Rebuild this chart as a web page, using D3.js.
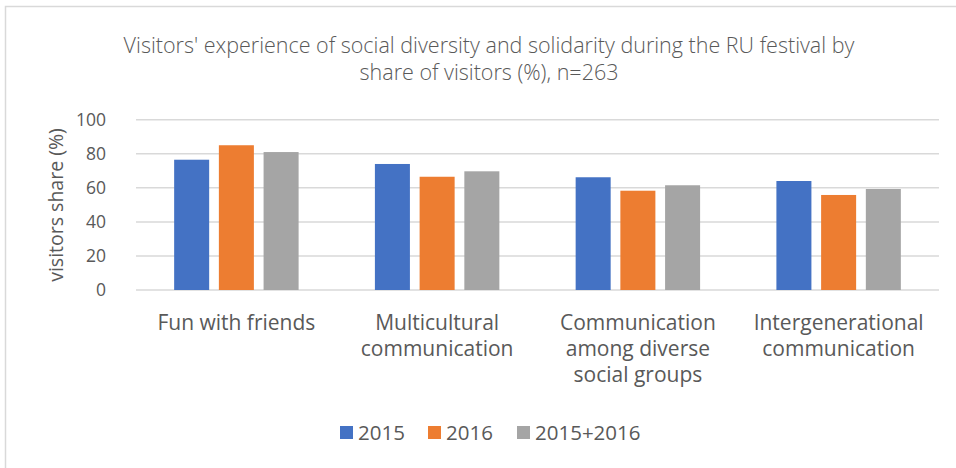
<!DOCTYPE html>
<html>
<head>
<meta charset="utf-8">
<script src="https://cdn.jsdelivr.net/npm/d3@7"></script>
<style>
  html, body { margin: 0; padding: 0; background: #fff; }
  svg { display: block; font-family: "Open Sans", Lato, sans-serif; }
</style>
</head>
<body>
<svg id="chart" width="956" height="468"></svg>
<script>
// Survey categories and shares of visitors (%) by festival year
const categories = [
  ["Fun with friends"],
  ["Multicultural", "communication"],
  ["Communication", "among diverse", "social groups"],
  ["Intergenerational", "communication"]
];
const seriesNames = ["2015", "2016", "2015+2016"];
const values2015 = [76.5, 74.0, 66.2, 64.0];
const values2016 = [85.0, 66.5, 58.3, 55.8];
const valuesBoth = [81.0, 69.7, 61.5, 59.3];
const yTicks = [0, 20, 40, 60, 80, 100];
const colors = ["#4472C4", "#ED7D31", "#A5A5A5"];

const seriesValues = [values2015, values2016, valuesBoth];

const svg = d3.select("#chart");
const textColor = "#595959";

// outer chart frame
svg.append("rect")
  .attr("x", 5.5).attr("y", 6.5)
  .attr("width", 980).attr("height", 500)
  .attr("fill", "none").attr("stroke", "#d9d9d9").attr("stroke-width", 1.5);

const plot = { left: 136, right: 939, top: 119.7, bottom: 290 };

const x0 = d3.scaleBand()
  .domain(d3.range(categories.length))
  .range([plot.left, plot.right])
  .paddingInner(0).paddingOuter(0);

const x1 = d3.scaleBand()
  .domain(d3.range(seriesNames.length))
  .range([0, x0.bandwidth()])
  .paddingOuter(0.853).paddingInner(0.217);

const y = d3.scaleLinear().domain([0, 100]).range([plot.bottom, plot.top]);

// gridlines
svg.append("g")
  .selectAll("line")
  .data(yTicks)
  .join("line")
  .attr("x1", plot.left).attr("x2", plot.right)
  .attr("y1", d => y(d)).attr("y2", d => y(d))
  .attr("stroke", "#d9d9d9").attr("stroke-width", 1.5);

// y tick labels
const yAxis = d3.axisLeft(y).tickValues(yTicks).tickSize(0).tickPadding(0);
const yg = svg.append("g").attr("transform", `translate(${plot.left - 30},0)`).call(yAxis);
yg.select(".domain").remove();
yg.selectAll("text")
  .attr("fill", textColor)
  .style("font-size", "17.5px")
  .style("font-family", "'Open Sans', Lato, sans-serif");

// y axis title
svg.append("text")
  .attr("transform", "translate(63,205) rotate(-90)")
  .attr("text-anchor", "middle")
  .attr("fill", textColor)
  .style("font-size", "19.5px")
  .text("visitors share (%)");

// bars
const groups = svg.append("g")
  .selectAll("g")
  .data(categories.map((c, i) => i))
  .join("g")
  .attr("transform", i => `translate(${x0(i)},0)`);

groups.selectAll("rect")
  .data(i => seriesValues.map((vals, s) => ({ s, v: vals[i] })))
  .join("rect")
  .attr("x", d => x1(d.s))
  .attr("width", x1.bandwidth())
  .attr("y", d => y(d.v))
  .attr("height", d => y(0) - y(d.v))
  .attr("fill", d => colors[d.s]);

// category labels
const catLabels = svg.append("g")
  .selectAll("text")
  .data(categories)
  .join("text")
  .attr("text-anchor", "middle")
  .attr("fill", textColor)
  .style("font-size", "21px")
  .attr("transform", (d, i) => `translate(${x0(i) + x0.bandwidth() / 2},330)`);
catLabels.selectAll("tspan")
  .data(d => d)
  .join("tspan")
  .attr("x", 0)
  .attr("y", (d, j) => j * 26)
  .text(d => d);

// title
const title = svg.append("text")
  .attr("text-anchor", "middle")
  .attr("fill", textColor)
  .style("font-size", "21.5px")
  .style("font-weight", 300);
title.append("tspan").attr("x", 489).attr("y", 53)
  .text("Visitors' experience of social diversity and solidarity during the RU festival by");
title.append("tspan").attr("x", 489).attr("y", 80)
  .text("share of visitors (%), n=263");

// legend
const legendX = [340, 428, 517];
const legend = svg.append("g")
  .selectAll("g")
  .data(seriesNames)
  .join("g")
  .attr("transform", (d, i) => `translate(${legendX[i]},426)`);
legend.append("rect")
  .attr("width", 13).attr("height", 13)
  .attr("fill", (d, i) => colors[i]);
legend.append("text")
  .attr("x", 18).attr("y", 14)
  .attr("fill", textColor)
  .style("font-size", "20.5px")
  .text(d => d);
</script>
</body>
</html>
